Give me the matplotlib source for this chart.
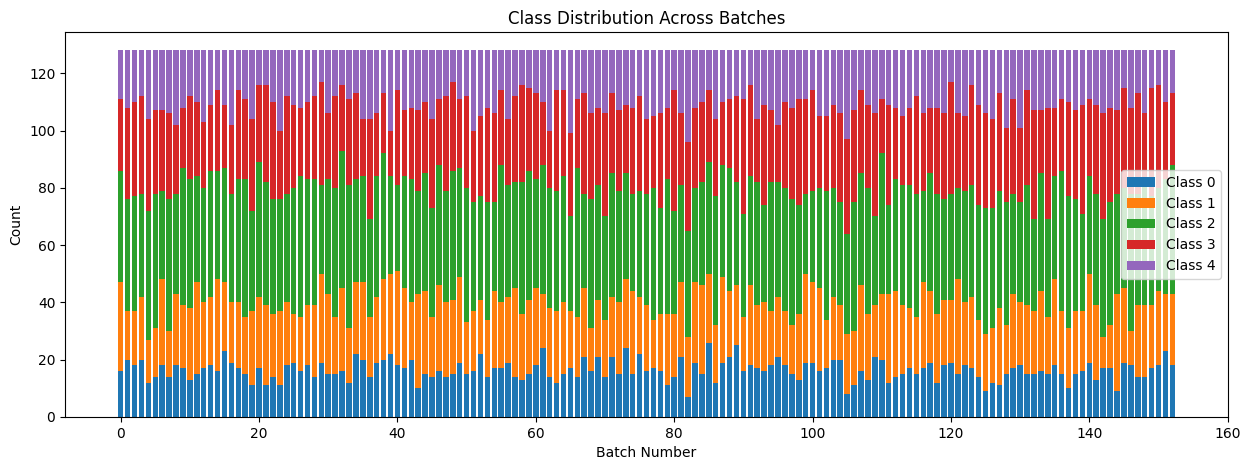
import numpy as np
import matplotlib
matplotlib.use('Agg')
from matplotlib import pyplot as plt

# counts per class for each batch (batch size 128)
class_0 = [16, 20, 18, 20, 12, 14, 18, 14, 18, 17, 13, 15, 17, 18, 16, 23, 19, 17, 15, 11,
           17, 11, 14, 11, 18, 19, 16, 18, 14, 19, 15, 15, 16, 12, 22, 20, 14, 19, 20, 22,
           18, 17, 20, 10, 15, 14, 16, 14, 15, 19, 15, 16, 22, 14, 17, 17, 19, 14, 13, 15,
           18, 24, 14, 12, 15, 17, 14, 21, 16, 21, 14, 21, 15, 24, 15, 22, 16, 17, 16, 11,
           14, 21, 7, 19, 15, 26, 12, 19, 21, 25, 16, 18, 17, 16, 18, 21, 18, 15, 13, 19,
           19, 16, 17, 20, 20, 8, 11, 16, 13, 21, 20, 12, 14, 15, 17, 15, 17, 19, 12, 18,
           19, 15, 18, 17, 14, 9, 12, 11, 15, 17, 18, 15, 15, 16, 15, 18, 15, 10, 15, 16,
           19, 13, 17, 17, 9, 19, 18, 14, 14, 17, 18, 23, 18]
class_1 = [31, 17, 19, 22, 15, 17, 30, 16, 25, 22, 25, 32, 23, 24, 32, 24, 21, 23, 20, 26,
           25, 28, 22, 26, 22, 17, 19, 21, 25, 31, 28, 20, 29, 19, 25, 27, 21, 23, 28, 28,
           33, 28, 20, 33, 29, 21, 30, 26, 26, 30, 18, 21, 19, 20, 27, 23, 23, 31, 23, 26,
           27, 19, 24, 25, 25, 20, 21, 24, 15, 20, 20, 21, 25, 24, 29, 20, 23, 17, 20, 25,
           22, 26, 21, 28, 31, 24, 20, 30, 23, 21, 19, 28, 22, 24, 19, 21, 19, 17, 23, 31,
           28, 29, 17, 22, 19, 21, 19, 30, 23, 18, 23, 31, 30, 24, 21, 20, 30, 25, 24, 23,
           22, 33, 22, 25, 20, 20, 19, 27, 17, 26, 22, 24, 22, 28, 20, 30, 22, 21, 22, 21,
           31, 26, 11, 15, 34, 26, 12, 25, 25, 22, 26, 20, 25]
class_2 = [39, 39, 40, 36, 45, 47, 31, 46, 35, 48, 45, 37, 40, 44, 38, 40, 38, 43, 48, 35,
           47, 43, 40, 39, 38, 44, 49, 44, 44, 31, 40, 45, 48, 50, 36, 37, 34, 42, 44, 34,
           30, 39, 43, 36, 41, 38, 42, 39, 45, 38, 47, 38, 36, 41, 31, 48, 39, 37, 46, 45,
           38, 45, 42, 42, 44, 33, 52, 33, 45, 40, 36, 43, 39, 37, 34, 37, 39, 46, 37, 47,
           36, 34, 37, 33, 36, 39, 45, 39, 43, 36, 36, 38, 43, 34, 45, 40, 43, 44, 38, 28,
           32, 35, 45, 38, 36, 35, 45, 39, 44, 31, 49, 31, 39, 42, 43, 43, 32, 41, 42, 35,
           37, 32, 39, 39, 40, 44, 42, 41, 43, 35, 35, 42, 32, 41, 34, 36, 49, 46, 39, 34,
           34, 39, 41, 43, 35, 35, 48, 39, 43, 38, 36, 40, 45]
class_3 = [25, 32, 33, 34, 32, 29, 28, 30, 24, 21, 29, 26, 23, 23, 28, 22, 24, 31, 28, 32,
           27, 34, 34, 24, 34, 29, 24, 27, 29, 36, 23, 32, 23, 30, 30, 20, 35, 22, 21, 16,
           33, 23, 25, 28, 25, 31, 23, 33, 31, 24, 32, 25, 28, 33, 31, 26, 23, 30, 34, 29,
           30, 22, 20, 35, 30, 29, 24, 35, 30, 27, 36, 28, 28, 24, 30, 33, 26, 25, 33, 25,
           42, 25, 31, 28, 28, 25, 27, 22, 24, 30, 40, 32, 22, 35, 25, 20, 30, 32, 37, 33,
           35, 25, 26, 29, 31, 33, 32, 29, 29, 36, 19, 35, 25, 24, 27, 34, 27, 23, 30, 30,
           39, 26, 26, 35, 35, 33, 31, 34, 26, 33, 26, 33, 38, 22, 39, 24, 25, 33, 31, 38,
           27, 31, 37, 33, 29, 35, 30, 35, 24, 38, 36, 27, 25]
class_4 = [17, 20, 18, 16, 24, 21, 21, 22, 26, 20, 16, 18, 25, 19, 14, 19, 26, 14, 17, 24,
           12, 12, 18, 28, 16, 19, 20, 18, 16, 11, 22, 16, 12, 17, 15, 24, 24, 22, 15, 28,
           14, 21, 20, 21, 18, 24, 17, 16, 11, 17, 16, 28, 23, 20, 22, 14, 24, 16, 12, 13,
           15, 18, 28, 14, 14, 29, 17, 15, 22, 20, 22, 15, 21, 19, 20, 16, 24, 23, 22, 20,
           14, 22, 32, 20, 18, 14, 24, 18, 17, 16, 17, 12, 24, 19, 21, 26, 18, 20, 17, 17,
           14, 23, 23, 19, 22, 31, 21, 14, 19, 22, 17, 19, 20, 23, 20, 16, 22, 20, 20, 22,
           11, 22, 23, 12, 19, 22, 24, 15, 27, 17, 27, 14, 21, 21, 20, 20, 17, 18, 21, 19,
           17, 19, 22, 20, 21, 13, 20, 15, 22, 13, 12, 18, 15]

counts = np.array([class_0, class_1, class_2, class_3, class_4])
batches = np.arange(counts.shape[1])
labels = ['Class 0', 'Class 1', 'Class 2', 'Class 3', 'Class 4']

fig, ax = plt.subplots(figsize=(12.51, 4.7), dpi=100)
fig.subplots_adjust(left=0.052, right=0.9816, top=0.932, bottom=0.1128)

bottom = np.zeros(len(batches))
for i, row in enumerate(counts):
    ax.bar(batches, row, bottom=bottom, label=labels[i])
    bottom += row

ax.set_title('Class Distribution Across Batches')
ax.set_xlabel('Batch Number')
ax.set_ylabel('Count')
ax.legend(loc='center right')

fig.savefig('out.png')
